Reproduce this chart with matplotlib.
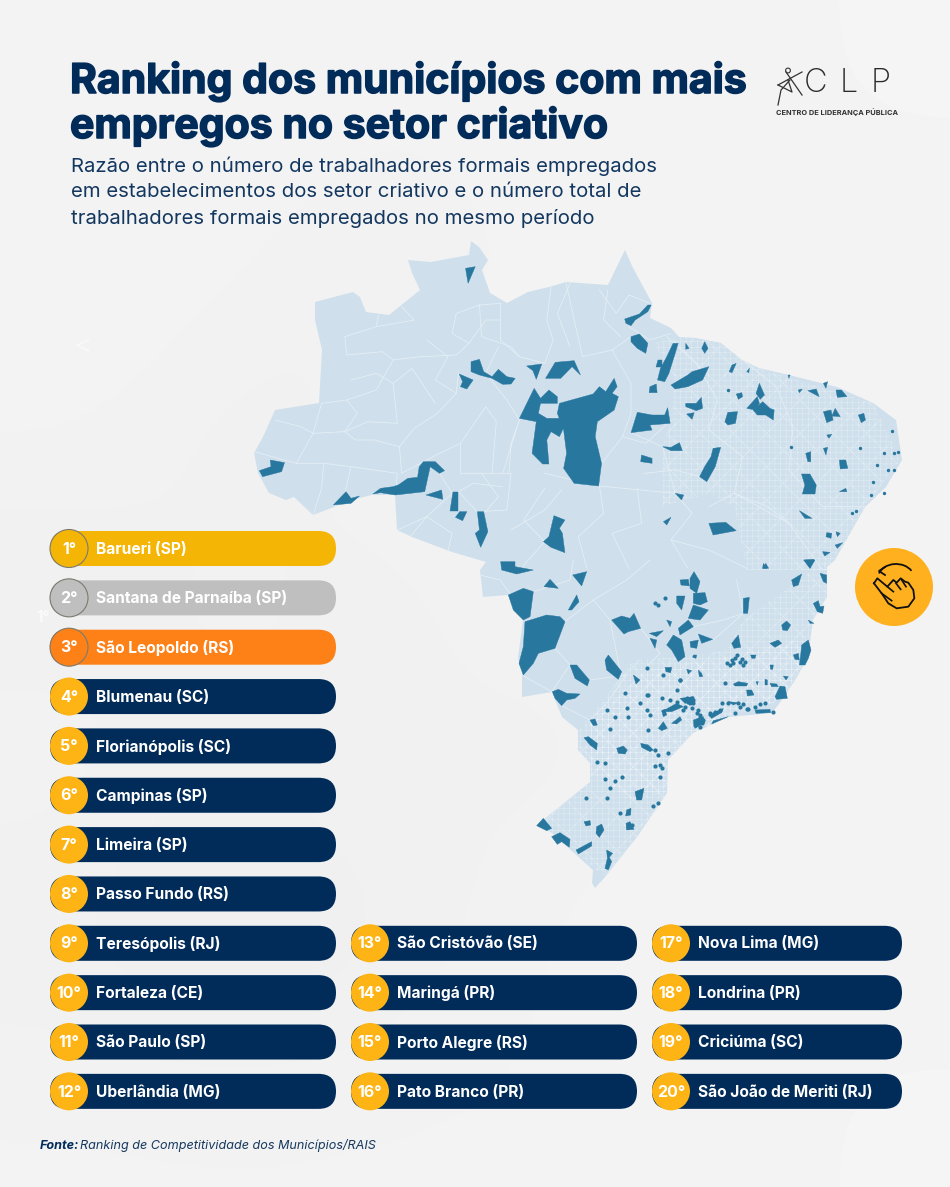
import matplotlib
matplotlib.use("Agg")
import matplotlib.pyplot as plt
import matplotlib.patheffects as pe
from matplotlib.patches import Circle, FancyBboxPatch, Polygon, Arc

plt.rcParams['font.family'] = ['Inter', 'Lato', 'DejaVu Sans']
plt.rcParams['hatch.linewidth'] = 0.35

NAVY = '#012c5a'
GOLD = '#fdb414'
MAP_LIGHT = '#cfe0ec'
MAP_DARK = '#28779f'

title_lines = ["Ranking dos municípios com mais", "empregos no setor criativo"]
subtitle_lines = ["Razão entre o número de trabalhadores formais empregados",
                  "em estabelecimentos dos setor criativo e o número total de",
                  "trabalhadores formais empregados no mesmo período"]

cities_left = ["Barueri (SP)", "Santana de Parnaíba (SP)", "São Leopoldo (RS)", "Blumenau (SC)",
               "Florianópolis (SC)", "Campinas (SP)", "Limeira (SP)", "Passo Fundo (RS)",
               "Teresópolis (RJ)", "Fortaleza (CE)", "São Paulo (SP)", "Uberlândia (MG)"]
cities_mid = ["São Cristóvão (SE)", "Maringá (PR)", "Porto Alegre (RS)", "Pato Branco (PR)"]
cities_right = ["Nova Lima (MG)", "Londrina (PR)", "Criciúma (SC)", "São João de Meriti (RJ)"]
podium_colors = ['#f5b505', '#bfbfbf', '#fd8117']

# paper shading, coarse grid stretched over the whole page
paper_shade = [[.95, .96, .95, .96, .95, .96],
               [.96, .95, .94, .95, .96, .95],
               [.95, .94, .95, .96, .95, .96],
               [.94, .95, .94, .95, .95, .95],
               [.95, .94, .95, .94, .95, .96],
               [.94, .93, .94, .95, .96, .95],
               [.95, .95, .95, .95, .95, .96]]

# Map shapes are read from two crops, each list in its own crop units
# north crop: x = 250 + u * .421, y = 240 + v / 3
# south crop: x = 480 + u / 3, y = 560 + v / 3
outline_px = [(315, 302), (353, 292), (360, 297), (366, 312), (389, 315), (420, 290), (412, 273), (408, 260),
              (431, 262), (469, 255), (471, 241), (479, 247), (488, 260), (482, 270), (490, 293), (507, 303),
              (528, 292), (549, 287), (566, 282), (608, 285), (625, 250), (633, 268), (652, 303), (650, 318),
              (671, 328), (679, 337), (696, 338), (721, 343), (742, 360), (759, 368), (789, 375), (837, 387),
              (873, 403), (896, 420), (902, 460), (886, 487), (865, 507), (835, 560), (827, 567), (827, 597),
              (813, 620), (808, 657), (797, 677), (782, 700), (772, 713), (728, 717), (693, 733), (668, 760),
              (667, 793), (637, 837), (605, 877), (595, 888), (592, 883), (593, 870), (552, 833), (537, 825),
              (590, 782), (590, 763), (578, 750), (578, 730), (562, 717), (552, 692), (522, 697), (522, 673),
              (518, 658), (523, 620), (508, 595), (483, 597), (480, 570), (486, 562), (452, 552), (412, 537),
              (397, 530), (395, 495), (372, 495), (351, 500), (334, 507), (313, 515), (294, 497), (286, 500),
              (269, 493), (258, 473), (254, 453), (263, 437), (275, 410), (319, 403), (322, 350), (315, 320)]

north_regions = [
    [(512, 85), (535, 80), (518, 130)],
    [(890, 237), (925, 222), (945, 195), (953, 195), (945, 215), (915, 240), (905, 257), (893, 250)],
    [(905, 290), (925, 282), (945, 310), (940, 340), (920, 325), (905, 305)],
    [(970, 360), (978, 360), (978, 380), (965, 380)],
    [(1005, 310), (1017, 310), (1010, 340), (995, 400), (985, 425), (968, 420), (975, 385), (990, 350)],
    [(1035, 310), (1043, 325), (1035, 328)],
    [(1080, 305), (1088, 325), (1080, 340), (1073, 325)],
    [(1000, 435), (1040, 405), (1050, 395), (1090, 380), (1075, 420), (1040, 440), (1010, 447)],
    [(950, 440), (965, 432), (967, 458), (948, 458)],
    [(1145, 375), (1155, 370), (1145, 398), (1138, 395)],
    [(1180, 395), (1186, 385), (1185, 398)],
    [(525, 365), (545, 358), (555, 395), (575, 410), (590, 388), (610, 410), (630, 415), (620, 432), (600, 433),
     (575, 415), (545, 405), (525, 395)],
    [(497, 402), (530, 420), (515, 447), (500, 440), (505, 425)],
    [(657, 378), (693, 372), (680, 418), (672, 392)],
    [(725, 367), (770, 362), (785, 405), (765, 380), (738, 415), (702, 415)],
    [(735, 490), (815, 462), (830, 440), (845, 455), (865, 415), (872, 440), (860, 460), (875, 470), (865, 510),
     (825, 545), (820, 590), (835, 670), (828, 738), (770, 730), (745, 685), (752, 640), (745, 570), (730, 520)],
    [(675, 445), (690, 475), (710, 450), (730, 470), (730, 490), (690, 490), (685, 520), (705, 535), (745, 535),
     (748, 555), (735, 590), (715, 575), (705, 600), (710, 672), (695, 672), (670, 640), (680, 545), (640, 535)],
    [(920, 517), (955, 525), (985, 525), (992, 503), (998, 550), (950, 555), (955, 570), (905, 578), (912, 550)],
    [(1035, 490), (1060, 490), (1072, 472), (1075, 505), (1060, 512), (1035, 500)],
    [(1037, 522), (1055, 518), (1050, 538)],
    [(930, 645), (955, 655), (955, 670), (928, 665)],
    [(980, 620), (1000, 622), (1020, 608), (1027, 632), (1000, 632)],
    [(1100, 625), (1118, 622), (1105, 680), (1085, 725), (1068, 710), (1080, 680), (1095, 650)],
    [(1135, 517), (1158, 515), (1153, 550), (1135, 555), (1128, 545)],
    [(1155, 462), (1168, 458), (1170, 470), (1160, 478)],
    [(1210, 430), (1222, 465), (1212, 478), (1202, 460)],
    [(1180, 505), (1205, 470), (1210, 490), (1200, 510)],
    [(1195, 510), (1218, 485), (1235, 505), (1245, 510), (1243, 540), (1225, 525), (1205, 525)],
    [(1010, 760), (1030, 765), (1025, 780)],
    [(982, 845), (1000, 832), (990, 855)],
    [(1090, 850), (1130, 847), (1155, 872), (1100, 885)],
    [(1362, 515), (1380, 510), (1385, 540), (1370, 548)],
    [(1390, 505), (1402, 530), (1382, 528)],
    [(1445, 525), (1458, 520), (1462, 540), (1452, 548)],
    [(1392, 450), (1405, 450), (1418, 470), (1395, 472)],
    [(1325, 452), (1345, 447), (1352, 470)],
    [(1362, 430), (1372, 425), (1368, 445)],
    [(1302, 450), (1312, 447), (1305, 458)],
    [(1278, 405), (1283, 405), (1280, 415)],
    [(1370, 585), (1382, 583), (1375, 595)],
    [(1320, 640), (1332, 635), (1332, 665), (1325, 665)],
    [(1362, 625), (1372, 622), (1368, 645)],
    [(1400, 660), (1415, 660), (1420, 685), (1402, 687)],
    [(1310, 702), (1330, 702), (1345, 735), (1342, 762), (1312, 762), (1318, 735)],
    [(1400, 755), (1415, 745), (1418, 755)],
    [(1305, 812), (1335, 835), (1318, 835)],
    [(1370, 878), (1382, 880), (1380, 895), (1368, 890)],
    [(1392, 875), (1402, 880), (1395, 890)],
    [(22, 692), (50, 680), (48, 660), (82, 668), (75, 695), (30, 710)],
    [(198, 795), (228, 755), (240, 775), (260, 768), (240, 790)],
    [(292, 762), (310, 745), (340, 740), (352, 735), (375, 715), (398, 712), (402, 680), (412, 665), (440, 665),
     (462, 692), (450, 700), (428, 680), (415, 755), (345, 765), (310, 758)],
    [(418, 765), (455, 750), (458, 778)],
    [(482, 755), (495, 755), (495, 812), (475, 812)],
    [(498, 815), (515, 815), (505, 842), (488, 832)],
    [(540, 815), (555, 815), (565, 875), (548, 922), (535, 880), (545, 870)],
    [(722, 827), (748, 840), (735, 865), (742, 880), (748, 938), (715, 922), (697, 905), (710, 890)],
    [(1218, 985), (1225, 970), (1232, 985)],
    [(1315, 960), (1340, 958), (1330, 985)],
    [(1360, 935), (1378, 937), (1365, 948)],
    [(1390, 915), (1408, 908), (1395, 925)],
]

south_regions = [
    [(62, 5), (105, 5), (105, 20), (160, 30), (110, 42), (65, 30)],
    [(192, 80), (210, 58), (235, 85)],
    [(278, 45), (320, 35), (305, 78)],
    [(85, 105), (130, 85), (160, 95), (150, 170), (130, 180), (100, 150)],
    [(135, 185), (200, 165), (240, 170), (255, 185), (225, 265), (175, 280), (160, 310), (130, 345), (117, 310),
     (130, 260)],
    [(265, 150), (290, 105), (297, 125), (275, 150)],
    [(395, 180), (425, 168), (450, 175), (462, 160), (482, 205), (445, 215), (432, 222)],
    [(600, 60), (625, 58), (628, 78), (603, 75)],
    [(630, 55), (642, 35), (660, 65), (650, 100), (630, 85)],
    [(640, 100), (675, 98), (682, 125), (660, 135), (640, 130)],
    [(640, 135), (685, 150), (660, 180), (625, 175)],
    [(590, 108), (615, 108), (605, 150), (590, 130)],
    [(595, 205), (625, 180), (640, 200), (600, 225)],
    [(560, 180), (575, 185), (570, 200)],
    [(508, 220), (550, 212), (530, 230)],
    [(510, 235), (530, 240), (525, 265)],
    [(560, 255), (580, 225), (605, 240), (615, 290), (595, 305), (575, 270)],
    [(630, 245), (655, 240), (650, 265), (632, 262)],
    [(655, 222), (698, 238), (665, 250)],
    [(375, 300), (385, 285), (425, 335), (415, 358), (380, 330)],
    [(270, 315), (290, 315), (328, 360), (322, 378), (285, 355)],
    [(217, 395), (235, 388), (260, 400), (300, 402), (285, 415), (260, 420), (245, 437), (225, 415)],
    [(640, 285), (650, 285), (648, 295), (638, 292)],
    [(460, 345), (480, 360), (468, 372)],
    [(555, 322), (575, 322), (572, 338), (558, 335)],
    [(620, 328), (635, 332), (625, 342)],
    [(655, 330), (665, 340), (668, 350), (658, 350)],
    [(790, 115), (808, 112), (803, 160), (790, 160)],
    [(935, 60), (965, 42), (955, 75), (940, 80)],
    [(975, 0), (1005, 0), (990, 25)],
    [(1020, 40), (1040, 45), (1040, 70), (1030, 65)],
    [(1000, 130), (1015, 122), (1020, 140), (1032, 138), (1028, 160), (1012, 155)],
    [(985, 180), (1002, 190), (990, 190)],
    [(905, 195), (920, 183), (932, 195), (922, 212), (908, 210)],
    [(755, 250), (775, 225), (782, 262), (762, 265)],
    [(870, 250), (895, 240), (905, 250), (885, 262)],
    [(965, 255), (985, 240), (993, 270), (985, 295), (975, 315), (958, 315), (962, 285)],
    [(940, 285), (955, 280), (958, 300), (945, 298)],
    [(850, 10), (860, 25), (848, 25)],
    [(885, 410), (900, 378), (915, 380), (922, 415), (890, 418)],
    [(800, 390), (815, 390), (822, 405), (802, 408)],
    [(760, 372), (775, 365), (803, 370), (800, 378), (765, 378)],
    [(870, 370), (890, 372), (895, 380), (875, 380)],
    [(855, 358), (862, 360), (862, 375), (855, 375)],
    [(910, 348), (925, 350), (918, 360)],
    [(828, 365), (835, 365), (832, 375)],
    [(812, 285), (828, 285), (825, 295), (815, 295)],
    [(870, 315), (880, 315), (878, 328), (872, 328)],
    [(535, 505), (550, 485), (562, 505), (545, 512)],
    [(575, 490), (600, 470), (605, 480), (590, 492)],
    [(545, 452), (555, 447), (560, 465), (550, 470)],
    [(330, 480), (345, 477), (352, 495), (340, 497)],
    [(410, 565), (430, 558), (442, 570), (435, 582), (415, 580)],
    [(312, 533), (325, 530), (352, 550), (350, 570), (330, 555)],
    [(482, 550), (505, 555), (520, 570), (510, 575), (485, 562)],
    [(465, 695), (492, 685), (485, 720), (470, 720)],
    [(170, 797), (190, 775), (215, 805), (200, 812)],
    [(215, 830), (240, 818), (270, 838), (268, 862), (245, 845), (232, 853)],
    [(288, 870), (335, 845), (335, 858), (295, 882)],
    [(350, 800), (365, 792), (372, 810), (358, 832), (348, 820)],
    [(312, 785), (330, 782), (332, 795), (318, 798)],
    [(380, 870), (398, 880), (388, 892), (395, 905), (385, 930), (375, 925), (382, 895)],
    [(440, 750), (453, 745), (452, 765), (437, 768)],
    [(438, 790), (450, 785), (462, 808), (440, 810)],
    [(745, 470), (700, 482), (695, 492)],
    [(745, 425), (775, 428), (760, 435)],
    [(825, 450), (870, 448), (872, 458), (828, 460)],
    [(545, 455), (590, 430), (610, 440), (575, 455)],
    [(685, 465), (730, 445), (725, 458), (695, 475)],
    [(600, 415), (640, 410), (645, 425), (615, 430)],
    [(640, 480), (670, 470), (675, 488), (645, 505)],
]

# tiny municipalities, south crop units
speck_u = [525, 535, 555, 500, 550, 600, 590, 635, 625, 615, 640, 655, 660, 650, 645, 660, 670, 690, 705, 720,
           725, 745, 775, 790, 800, 780, 765, 755, 740, 795, 735, 570, 545, 505, 435, 380, 405, 390, 500, 510,
           525, 535, 565, 540, 545, 525, 540, 350, 375, 375, 405, 390, 380, 318, 425, 520, 535, 420, 445, 455,
           765, 780, 805, 825, 840, 855, 880, 505, 480, 600, 590, 500, 440, 445,
           770, 785, 750, 790, 760, 620, 630, 640, 650, 660, 655, 645, 665, 635, 610]
speck_v = [130, 135, 115, 325, 345, 360, 390, 415, 425, 440, 430, 450, 470, 485, 495, 500, 480, 460, 455, 450,
           430, 430, 430, 432, 448, 305, 295, 300, 308, 305, 370, 420, 415, 405, 400, 450, 470, 508, 450, 465,
           570, 585, 580, 615, 625, 618, 650, 605, 610, 658, 662, 685, 715, 715, 650, 738, 728, 758, 800, 795,
           460, 440, 448, 440, 432, 428, 455, 510, 430, 360, 425, 405, 445, 470,
           285, 298, 315, 315, 310, 415, 430, 420, 460, 465, 480, 490, 490, 445, 450]
speck_north_u = [1525, 1530, 1540, 1450, 1505, 1490, 1515, 1530, 1480, 1475, 1505, 1430, 1440, 1135, 1285]
speck_north_v = [572, 640, 635, 625, 640, 675, 690, 690, 725, 765, 758, 820, 812, 450, 620]

# main municipal borders that can be picked out, north crop units
border_lines = [
    [(170, 490), (230, 480), (300, 450), (340, 360), (315, 335), (230, 345), (225, 290), (300, 260), (305, 225)],
    [(300, 260), (390, 240), (360, 200)],
    [(340, 360), (405, 350), (490, 345), (520, 310), (480, 280), (490, 220), (545, 195)],
    [(170, 490), (150, 580), (110, 670), (175, 670), (240, 680), (350, 700), (345, 765)],
    [(110, 670), (10, 635)],
    [(150, 580), (225, 575), (250, 600), (295, 600), (355, 620), (390, 565), (445, 520), (490, 460), (495, 400)],
    [(225, 575), (280, 545), (350, 550), (340, 430), (385, 385), (440, 490)],
    [(240, 420), (300, 400), (340, 430)],
    [(175, 670), (170, 745), (150, 825)],
    [(240, 680), (225, 760), (200, 800)],
    [(355, 620), (360, 700), (450, 640), (500, 610), (500, 700), (620, 700)],
    [(500, 610), (560, 500), (585, 545), (575, 700)],
    [(545, 195), (595, 190), (595, 300), (640, 350), (700, 370), (720, 300), (705, 240), (715, 140)],
    [(545, 195), (550, 290), (620, 320), (640, 350)],
    [(595, 240), (560, 240), (520, 310)],
    [(750, 125), (770, 240), (790, 350), (860, 330), (905, 290)],
    [(830, 150), (870, 220), (900, 165), (950, 190)],
    [(600, 700), (640, 540), (620, 610), (615, 700)],
    [(700, 700), (830, 738), (1010, 760), (980, 620), (905, 578)],
    [(835, 670), (885, 590), (905, 520), (905, 430), (860, 330)],
    [(620, 700), (610, 810), (540, 815), (495, 755), (530, 730), (600, 740)],
    [(450, 700), (480, 760), (420, 830), (350, 870)],
    [(700, 745), (650, 840), (700, 905), (640, 990)],
    [(830, 738), (840, 820), (780, 890), (800, 985)],
    [(920, 745), (930, 850), (860, 880), (900, 985)],
    [(1010, 760), (1050, 820), (1000, 900), (1040, 985)],
    [(990, 290), (1060, 370), (1110, 480), (1090, 570), (1170, 650), (1150, 760), (1280, 850), (1360, 990)],
    [(1170, 360), (1250, 440), (1290, 560), (1280, 690), (1360, 800), (1460, 800)],
    [(60, 540), (120, 560), (150, 580)], [(230, 480), (255, 520), (225, 575)],
    [(420, 300), (470, 350), (440, 420), (490, 460)], [(590, 320), (560, 400), (610, 480), (640, 540)],
    [(380, 890), (420, 830), (480, 880), (470, 935)], [(550, 700), (590, 770), (560, 815)],
    [(620, 870), (700, 810), (740, 750)], [(850, 150), (840, 240), (880, 290)],
    [(900, 260), (950, 300), (1000, 280)], [(760, 130), (730, 220), (760, 320)],
    [(885, 590), (940, 610), (1000, 540)], [(935, 700), (1010, 690), (1068, 710)],
    [(1090, 800), (1150, 760), (1230, 800), (1280, 850)], [(1000, 900), (1090, 930), (1180, 985)],
]
south_border_lines = [
    [(0, 45), (60, 60), (90, 100)], [(255, 185), (340, 120), (390, 180), (420, 330)],
    [(160, 95), (270, 60), (280, 0)], [(225, 265), (270, 315), (215, 395)],
    [(125, 345), (215, 395)], [(340, 120), (440, 60), (510, 0)], [(482, 205), (540, 280), (500, 320)],
    [(330, 360), (440, 345), (380, 430), (330, 480)], [(245, 437), (330, 480)],
    [(700, 240), (790, 160), (770, 60)], [(640, 200), (730, 180), (790, 160)],
]

# busy municipal mesh in the east and south, north / south crop units
mesh_north = [(960, 310), (1020, 290), (1120, 310), (1210, 385), (1480, 490), (1545, 660), (1460, 800), (1400, 990),
              (1180, 990), (1150, 800), (1090, 760), (980, 800), (980, 620), (1000, 540), (1010, 420)]
mesh_south = [(340, 460), (460, 300), (620, 290), (740, 270), (790, 180), (1040, 0), (1040, 110), (985, 290),
              (905, 420), (745, 470), (640, 520), (565, 600), (560, 700), (470, 830), (375, 950), (215, 820),
              (170, 795), (330, 665), (295, 570), (295, 510)]
mesh_fine = [(500, 330), (740, 290), (950, 240), (985, 290), (905, 420), (745, 470), (640, 520), (565, 600),
             (560, 700), (450, 720), (330, 640), (330, 480)]

# swipe icon and logo strokes
hand_u = [1182, 1192, 1222, 1240, 1250, 1262, 1275, 1285, 1300, 1303, 1285, 1250, 1225, 1205, 1182]
hand_v = [70, 55, 80, 60, 68, 55, 65, 68, 90, 115, 140, 145, 130, 100, 70]
logo_marks = [[(778, 85), (802, 72)], [(786, 72), (802, 95)],
              [(778, 105), (781, 90), (790, 80)], [(778, 85), (792, 92), (788, 80)]]


def north_px(pts):
    return [(250 + u * .421, 240 + v / 3) for u, v in pts]


def south_px(pts):
    return [(480 + u / 3, 560 + v / 3) for u, v in pts]


fig = plt.figure(figsize=(9.5, 11.87), dpi=100)
ax = fig.add_axes([0, 0, 1, 1])
ax.set_xlim(0, 950)
ax.set_ylim(1187, 0)
ax.axis('off')

# paper
ax.imshow(paper_shade, cmap='gray', vmin=0, vmax=1, extent=(0, 950, 1187, 0), aspect='auto',
          interpolation='bicubic', zorder=0)

# map base
land = Polygon(outline_px, closed=True, facecolor=MAP_LIGHT, edgecolor='none', zorder=1)
ax.add_patch(land)

for pts, hatch in [(north_px(mesh_north), '+++x'), (south_px(mesh_south), '+++x'), (south_px(mesh_fine), '+++xx')]:
    mesh = Polygon(pts, closed=True, facecolor='none', edgecolor='#f2f7fb', hatch=hatch, lw=0, zorder=2, alpha=.55)
    ax.add_patch(mesh)
    mesh.set_clip_path(land)

for group, to_px in [(border_lines, north_px), (south_border_lines, south_px)]:
    for line in group:
        xs, ys = zip(*to_px(line))
        l, = ax.plot(xs, ys, color='#e6eff6', lw=.55, zorder=3, solid_joinstyle='round')
        l.set_clip_path(land)

for pts in north_regions:
    ax.add_patch(Polygon(north_px(pts), closed=True, facecolor=MAP_DARK, edgecolor=MAP_DARK, lw=.3, zorder=4))
for pts in south_regions:
    ax.add_patch(Polygon(south_px(pts), closed=True, facecolor=MAP_DARK, edgecolor=MAP_DARK, lw=.3, zorder=4))

sx, sy = zip(*south_px(list(zip(speck_u, speck_v))))
ax.scatter(sx, sy, s=9, color=MAP_DARK, linewidths=0, zorder=4)
sx, sy = zip(*north_px(list(zip(speck_north_u, speck_north_v))))
ax.scatter(sx, sy, s=6, color=MAP_DARK, linewidths=0, zorder=4)

# title block
title_fx = [pe.withStroke(linewidth=1.1, foreground=NAVY)]
for text, y in zip(title_lines, [81, 126]):
    ax.text(70, y, text, fontsize=29.5, fontweight='bold', color=NAVY, va='center', ha='left', zorder=5,
            path_effects=title_fx)
for text, y in zip(subtitle_lines, [166, 192, 218]):
    ax.text(71, y, text, fontsize=14.65, color='#13375f', va='center', ha='left', zorder=5)

# ranking pills
pill_h = 35
row_step = 49.35
first_row = 548.5


def draw_pill(rank, city, left, right, row, color, ringed):
    y = first_row + row * row_step
    r = pill_h / 2
    ax.add_patch(FancyBboxPatch((left + r, y), right - left - pill_h, .01,
                                boxstyle=f"round,pad={r},rounding_size={r}",
                                facecolor=color, edgecolor='none', zorder=5))
    ax.add_patch(Circle((left + 19, y), 19, facecolor=color if ringed else GOLD, zorder=6,
                        edgecolor='#7b7b70' if ringed else 'none', lw=.8))
    ax.text(left + 19, y + .7, f"{rank}°", fontsize=11.5, fontweight='bold', color='white', ha='center', va='center',
            zorder=7)
    ax.text(left + 46, y + .7, city, fontsize=11.2, fontweight='bold', color='white', ha='left', va='center', zorder=7)


for i, city in enumerate(cities_left):
    color = podium_colors[i] if i < 3 else NAVY
    draw_pill(i + 1, city, 50, 336, i, color, i < 3)
for i, city in enumerate(cities_mid):
    draw_pill(i + 13, city, 351, 637, i + 8, NAVY, False)
for i, city in enumerate(cities_right):
    draw_pill(i + 17, city, 652, 902, i + 8, NAVY, False)

# stray marks left in the artwork
ax.text(43, 618, "1°", fontsize=11, fontweight='bold', color='#fafafa', ha='center', va='center', zorder=2)
ax.text(83, 347, "<", fontsize=20, color='#f8f8f8', ha='center', va='center', zorder=2)

# swipe icon
ax.add_patch(Circle((894, 587), 39, facecolor='#ffb01f', edgecolor='none', zorder=5))
ax.add_patch(Arc((896, 578), 36, 28, theta1=195, theta2=335, color='#111111', lw=1.3, zorder=6))
ax.plot([885, 879, 885], [567, 571, 575], color='#111111', lw=1.3, zorder=6)
hx, hy = zip(*south_px(list(zip(hand_u, hand_v))))
ax.plot(hx, hy, color='#111111', lw=1.3, zorder=6, solid_joinstyle='round')
for seg in [[(1222, 80), (1240, 95)], [(1248, 70), (1262, 88)], [(1265, 60), (1278, 80)], [(1205, 100), (1235, 122)]]:
    hx, hy = zip(*south_px(seg))
    ax.plot(hx, hy, color='#111111', lw=1.2, zorder=6)

# logo
for ch, x in zip("CLP", [804, 840, 871]):
    ax.text(x, 84, ch, fontsize=23.5, fontweight='light', color='#2b2b2b', ha='left', va='center', zorder=5)
ax.text(776.5, 112, "CENTRO DE LIDERANÇA PÚBLICA", fontsize=5.35, fontweight='bold', color='#333333',
        ha='left', va='center', zorder=5)
for seg in logo_marks:
    xs, ys = zip(*seg)
    ax.plot(xs, ys, color='#333333', lw=.9, zorder=5)
ax.add_patch(Circle((788, 70.5), 2.4, facecolor='none', edgecolor='#333333', lw=.8, zorder=5))

# source
ax.text(40, 1146, "Fonte:", fontsize=9.1, fontweight='bold', style='italic', color=NAVY, va='center', zorder=5)
ax.text(80, 1146, "Ranking de Competitividade dos Municípios/RAIS", fontsize=9.1, style='italic', color='#17395f',
        va='center', zorder=5)

fig.savefig("out.png", dpi=100)
